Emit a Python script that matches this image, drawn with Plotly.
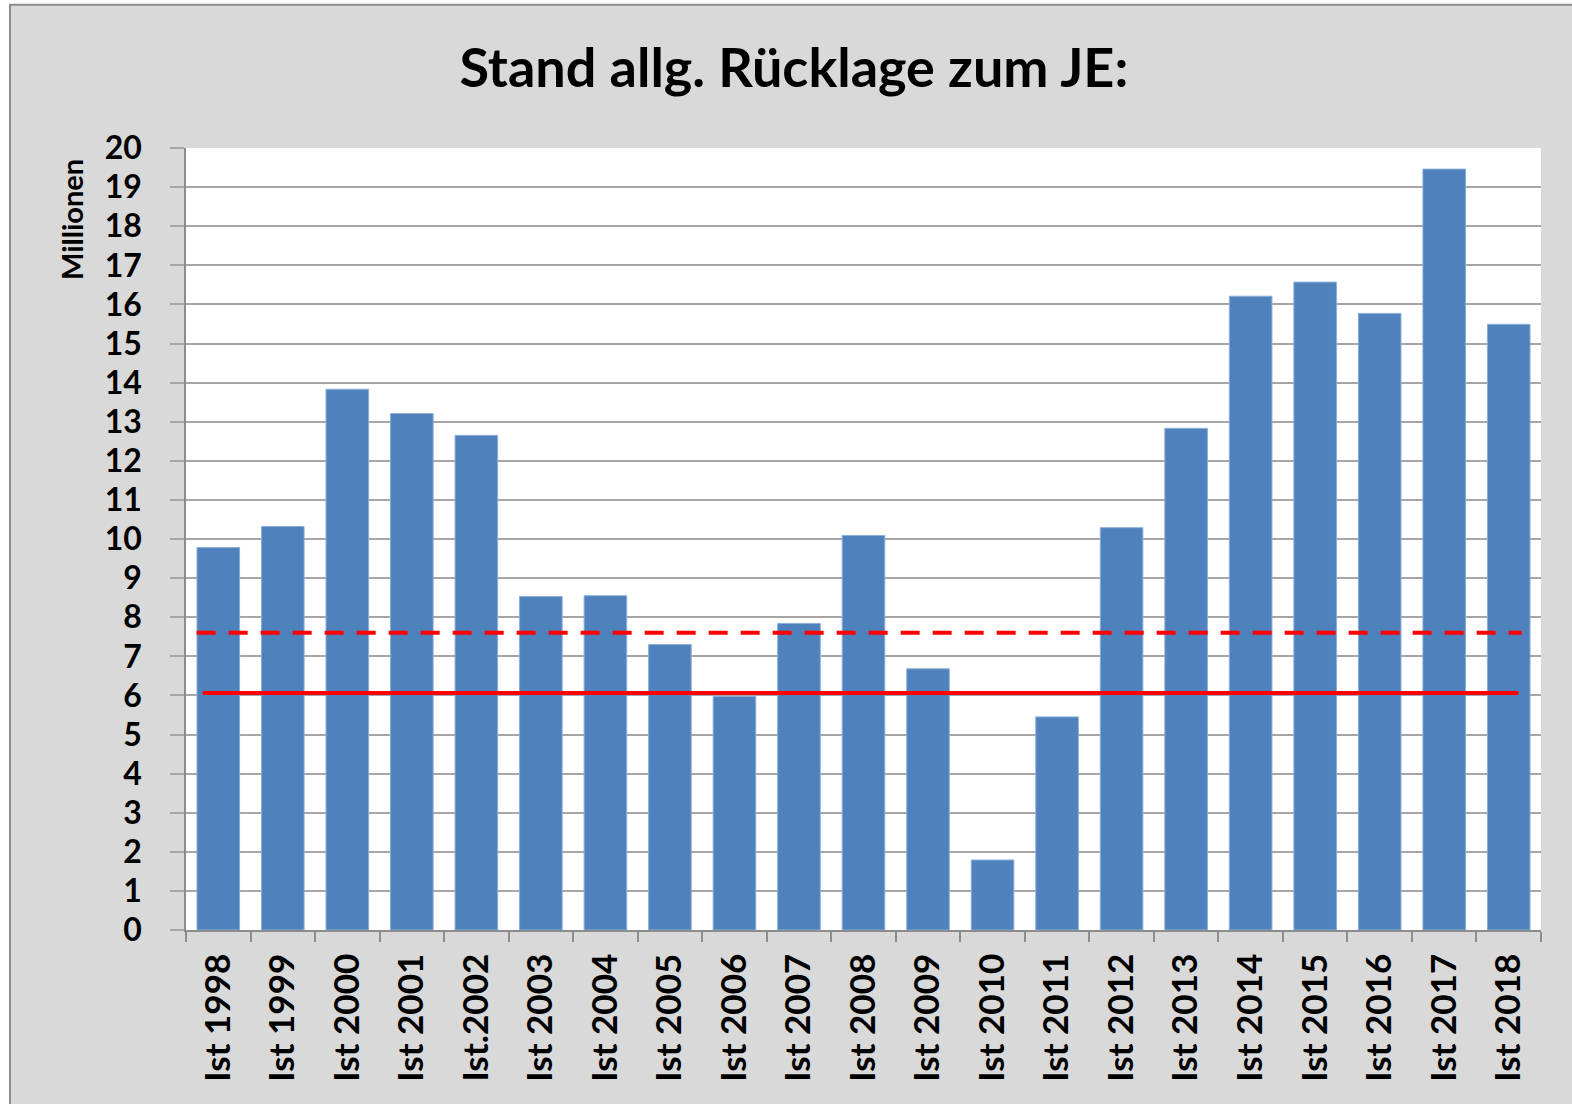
import plotly.graph_objects as go

categories = ["Ist 1998", "Ist 1999", "Ist 2000", "Ist 2001", "Ist.2002", "Ist 2003", "Ist 2004",
              "Ist 2005", "Ist 2006", "Ist 2007", "Ist 2008", "Ist 2009", "Ist 2010", "Ist 2011",
              "Ist 2012", "Ist 2013", "Ist 2014", "Ist 2015", "Ist 2016", "Ist 2017", "Ist 2018"]
values = [9.78, 10.32, 13.83, 13.21, 12.65, 8.53, 8.55, 7.30, 5.97, 7.84, 10.09,
          6.68, 1.79, 5.45, 10.29, 12.83, 16.21, 16.57, 15.77, 19.46, 15.49]
dashed_level = 7.60
solid_level = 6.06
y_ticks = list(range(0, 21))

FONT = "Lato"

fig = go.Figure()
fig.add_trace(go.Bar(
    x=categories, y=values,
    marker=dict(color="#4f81bd", line=dict(color="#8aaed8", width=1)),
    width=0.66,
))

# outer chart frame (grey) and white plot area
fig.add_shape(type="rect", xref="paper", yref="paper",
              x0=-0.1299, x1=1.2, y0=-0.5, y1=1.1831,
              fillcolor="#d9d9d9", line=dict(color="#8c8c8c", width=2), layer="below")
fig.add_shape(type="rect", xref="paper", yref="paper",
              x0=0, x1=1, y0=0, y1=1,
              fillcolor="white", line=dict(width=0), layer="below")

fig.add_shape(type="line", xref="x", yref="y", x0=-0.335, x1=20.2,
              y0=dashed_level, y1=dashed_level,
              line=dict(color="#ff0000", width=4, dash="19px,13px"))
fig.add_shape(type="line", xref="x", yref="y", x0=-0.24, x1=20.15,
              y0=solid_level, y1=solid_level,
              line=dict(color="#ff0000", width=4))

fig.add_annotation(text="Millionen", xref="paper", yref="paper",
                   x=-0.0841, y=0.908, xanchor="center", yanchor="middle",
                   textangle=-90, showarrow=False,
                   font=dict(family=FONT, size=29, color="black", weight="bold"))

fig.update_layout(
    width=1572, height=1104,
    margin=dict(l=186, r=31, t=148, b=174),
    paper_bgcolor="white", plot_bgcolor="white",
    showlegend=False,
    title=dict(text="Stand allg. Rücklage zum JE:", x=0.505, xanchor="center",
               y=1 - 68 / 1104, yanchor="middle",
               font=dict(family=FONT, size=54, color="black", weight="bold")),
    xaxis=dict(type="category", tickangle=-90, showgrid=False,
               ticks="outside", ticklen=10, tickcolor="#8c8c8c", tickwidth=1.5,
               tickson="boundaries", showline=True, linecolor="#8c8c8c", linewidth=1.5,
               tickfont=dict(family=FONT, size=35, color="black", weight="bold"),
               ticklabelstandoff=8, range=[-0.5, 20.5]),
    yaxis=dict(range=[0, 20], tickvals=y_ticks, showgrid=True, gridcolor="#a6a6a6", gridwidth=1.5,
               ticks="outside", ticklen=14, tickcolor="#a6a6a6", tickwidth=1.5,
               showline=True, linecolor="#8c8c8c", linewidth=1.5, zeroline=False,
               tickfont=dict(family=FONT, size=32, color="black", weight="bold"),
               ticklabelstandoff=22),
)

fig.write_html("out.html", config={"displayModeBar": False},
               post_script="document.body.style.margin='0px';")
